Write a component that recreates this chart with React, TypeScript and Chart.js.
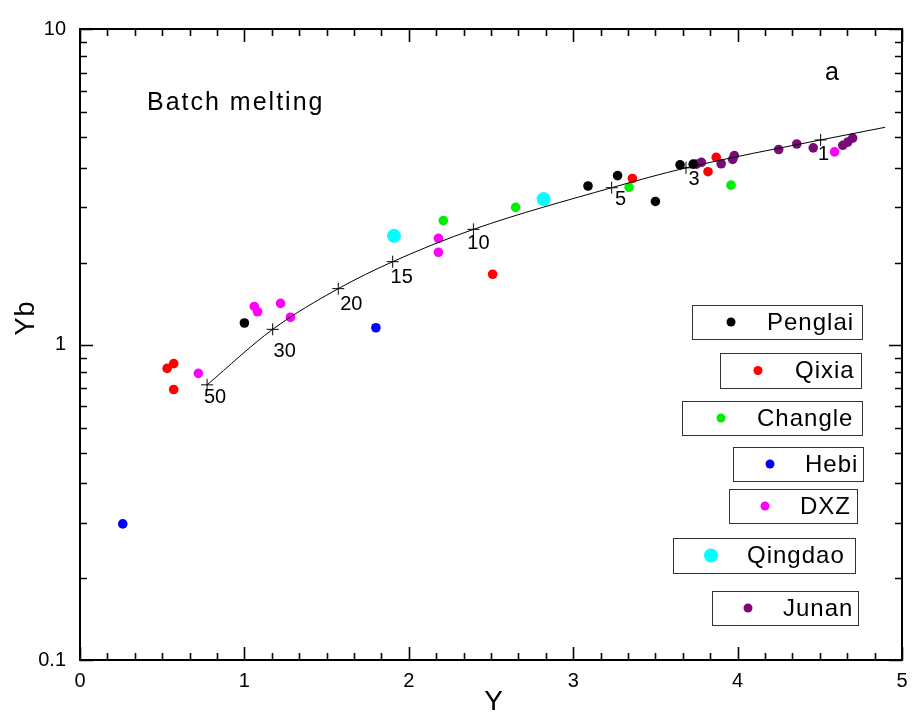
import React, { useEffect, useRef } from 'react';
import { Chart, registerables } from 'chart.js';

Chart.register(...registerables);

// ---------- data ----------
const seriesNames = ['Penglai', 'Qixia', 'Changle', 'Hebi', 'DXZ', 'Qingdao', 'Junan'];
const seriesColors = ['#000000', '#ff0000', '#00ee00', '#0000ff', '#ff00ff', '#00ffff', '#7a0a7a'];

const penglaiY = [1.0, 3.09, 3.27, 3.5, 3.65, 3.73];
const penglaiYb = [1.17, 3.18, 3.43, 2.84, 3.71, 3.73];

const qixiaY = [0.53, 0.57, 0.57, 2.51, 3.36, 3.87, 3.82];
const qixiaYb = [0.84, 0.87, 0.72, 1.67, 3.36, 3.92, 3.53];

const changleY = [2.21, 2.65, 3.34, 3.96];
const changleYb = [2.47, 2.72, 3.15, 3.2];

const hebiY = [0.26, 1.8];
const hebiYb = [0.27, 1.13];

const dxzY = [0.72, 1.06, 1.08, 1.22, 1.28, 2.18, 2.18, 4.59];
const dxzYb = [0.81, 1.32, 1.27, 1.35, 1.22, 2.17, 1.96, 4.08];

const qingdaoY = [1.91, 2.82];
const qingdaoYb = [2.21, 2.89];

const junanY = [3.75, 3.78, 3.9, 3.97, 3.98, 4.25, 4.36, 4.46, 4.64, 4.67, 4.7];
const junanYb = [3.73, 3.78, 3.74, 3.86, 3.97, 4.15, 4.32, 4.2, 4.28, 4.38, 4.51];

// batch melting model curve
const curveY = [0.773, 1.172, 1.571, 1.902, 2.393, 3.234, 3.686, 4.505, 4.897];
const curveYb = [0.745, 1.117, 1.503, 1.83, 2.317, 3.14, 3.63, 4.45, 4.88];
// melting degree labels (F %) for the first 8 curve points
const fLabels = ['50', '30', '20', '15', '10', '5', '3', '1'];

const xTickLabels = ['0', '1', '2', '3', '4', '5'];
const yTickLabels = ['0.1', '1', '10'];

// ---------- layout / styling (not data) ----------
const FONT = '"Liberation Sans", Arial, sans-serif';
const fLabelOffsets = [
  [8, 13], [12, 22], [13, 16], [9, 16], [5, 14], [9, 12], [8, 12], [3, 15],
];
const legendBoxes = [
  { x: 692, y: 305, w: 170, h: 34, mx: 731, tx: 767 },
  { x: 720, y: 353, w: 141, h: 35, mx: 758, tx: 795 },
  { x: 682, y: 401, w: 180, h: 34, mx: 721, tx: 757 },
  { x: 733, y: 447, w: 130, h: 34, mx: 770, tx: 805 },
  { x: 729, y: 489, w: 128, h: 34, mx: 765, tx: 800 },
  { x: 673, y: 538, w: 182, h: 35, mx: 711, tx: 747 },
  { x: 712, y: 591, w: 146, h: 34, mx: 748, tx: 783 },
];

const seriesY = [penglaiY, qixiaY, changleY, hebiY, dxzY, qingdaoY, junanY];
const seriesYb = [penglaiYb, qixiaYb, changleYb, hebiYb, dxzYb, qingdaoYb, junanYb];

const framePlugin = {
  id: 'frameTicks',
  beforeDraw(chart: any) {
    const ctx = chart.ctx;
    ctx.save();
    ctx.fillStyle = '#ffffff';
    ctx.fillRect(0, 0, chart.width, chart.height);
    ctx.restore();
  },
  afterDatasetsDraw(chart: any) {
    const { ctx, chartArea, scales } = chart;
    const { left, right, top, bottom } = chartArea;
    const xs = scales.x;
    const ys = scales.y;
    ctx.save();
    ctx.strokeStyle = '#000';
    ctx.lineWidth = 1.6;
    // x ticks (minor every 1/6)
    for (let i = 0; i <= 30; i++) {
      const px = Math.round(xs.getPixelForValue(i / 6)) + 0.5;
      const len = i % 6 === 0 ? 13 : 7;
      ctx.beginPath();
      ctx.moveTo(px, bottom);
      ctx.lineTo(px, bottom - len);
      ctx.moveTo(px, top);
      ctx.lineTo(px, top + len);
      ctx.stroke();
    }
    // y ticks (log, minor at k/11 of the decade top)
    const decades = [1, 10];
    for (const d of decades) {
      for (let k = 2; k <= 10; k++) {
        const v = (d * k) / 11;
        const py = Math.round(ys.getPixelForValue(v)) + 0.5;
        ctx.beginPath();
        ctx.moveTo(left, py);
        ctx.lineTo(left + 7, py);
        ctx.moveTo(right, py);
        ctx.lineTo(right - 7, py);
        ctx.stroke();
      }
    }
    for (const v of [0.1, 1, 10]) {
      const py = Math.round(ys.getPixelForValue(v)) + 0.5;
      ctx.beginPath();
      ctx.moveTo(left, py);
      ctx.lineTo(left + 13, py);
      ctx.moveTo(right, py);
      ctx.lineTo(right - 13, py);
      ctx.stroke();
    }
    // frame
    ctx.lineWidth = 2;
    ctx.strokeRect(left, top, right - left, bottom - top);

    // F labels next to the crosses
    const meta = chart.getDatasetMeta(1);
    ctx.fillStyle = '#000';
    ctx.font = `20px ${FONT}`;
    ctx.textAlign = 'center';
    ctx.textBaseline = 'middle';
    meta.data.forEach((pt: any, i: number) => {
      const off = fLabelOffsets[i] || [8, 14];
      ctx.fillText(fLabels[i], pt.x + off[0], pt.y + off[1]);
    });

    // texts
    (ctx as any).letterSpacing = '2px';
    ctx.textAlign = 'left';
    ctx.textBaseline = 'alphabetic';
    ctx.font = `25px ${FONT}`;
    ctx.fillText('Batch melting', 147, 110);
    ctx.fillText('a', 825, 80);

    // axis titles
    (ctx as any).letterSpacing = '1px';
    ctx.font = `28px ${FONT}`;
    ctx.textAlign = 'center';
    ctx.fillText('Y', 494, 710);
    ctx.save();
    ctx.translate(34, 318);
    ctx.rotate(-Math.PI / 2);
    ctx.font = `27px ${FONT}`;
    ctx.fillText('Yb', 0, 0);
    ctx.restore();

    // legend
    ctx.font = `24px ${FONT}`;
    ctx.textAlign = 'left';
    ctx.textBaseline = 'middle';
    legendBoxes.forEach((b, i) => {
      ctx.lineWidth = 1;
      ctx.strokeStyle = '#333';
      ctx.strokeRect(b.x + 0.5, b.y + 0.5, b.w, b.h);
      const cy = b.y + b.h / 2;
      ctx.fillStyle = seriesColors[i];
      ctx.beginPath();
      ctx.arc(b.mx, cy, seriesNames[i] === 'Qingdao' ? 7 : 4.5, 0, Math.PI * 2);
      ctx.fill();
      ctx.fillStyle = '#000';
      ctx.fillText(seriesNames[i], b.tx, cy + 1);
    });
    (ctx as any).letterSpacing = '0px';
    ctx.restore();
  },
};

export default function App() {
  const ref = useRef<HTMLCanvasElement | null>(null);

  useEffect(() => {
    if (!ref.current) return;
    const scatterSets = seriesNames.map((name, i) => ({
      type: 'scatter' as const,
      label: name,
      data: seriesY[i].map((v, j) => ({ x: v, y: seriesYb[i][j] })),
      backgroundColor: seriesColors[i],
      borderColor: seriesColors[i],
      borderWidth: 0,
      pointRadius: name === 'Qingdao' ? 7 : 4.8,
      pointHoverRadius: name === 'Qingdao' ? 7 : 4.8,
    }));
    const chart = new Chart(ref.current, {
      type: 'scatter',
      data: {
        datasets: [
          {
            type: 'line' as const,
            label: 'batch melting',
            data: curveY.map((v, j) => ({ x: v, y: curveYb[j] })),
            borderColor: '#000',
            borderWidth: 1,
            pointRadius: 0,
            showLine: true,
            fill: false,
            cubicInterpolationMode: 'monotone',
          } as any,
          {
            type: 'scatter' as const,
            label: 'F',
            data: fLabels.map((_, j) => ({ x: curveY[j], y: curveYb[j] })),
            pointStyle: 'cross',
            pointRadius: 6,
            borderColor: '#000',
            backgroundColor: '#000',
            borderWidth: 1,
          },
          ...scatterSets,
        ],
      },
      options: {
        responsive: false,
        animation: false,
        layout: { padding: { top: 29, right: 10, left: 0, bottom: 0 } },
        plugins: {
          legend: { display: false },
          tooltip: { enabled: false },
        },
        scales: {
          x: {
            type: 'linear',
            min: 0,
            max: 5,
            grid: { display: false, drawTicks: false },
            border: { display: false },
            ticks: {
              stepSize: 1,
              padding: 9,
              color: '#000',
              font: { family: FONT, size: 20 },
              callback: (v: any) => {
                const idx = Math.round(Number(v));
                return Math.abs(Number(v) - idx) < 1e-6 ? xTickLabels[idx] : '';
              },
            },
            afterFit: (s: any) => {
              s.height = 53;
              s.paddingLeft = 0;
              s.paddingRight = 0;
            },
          },
          y: {
            type: 'logarithmic',
            min: 0.1,
            max: 10,
            grid: { display: false, drawTicks: false },
            border: { display: false },
            ticks: {
              padding: 14,
              color: '#000',
              font: { family: FONT, size: 20 },
              autoSkip: false,
              callback: (v: any) => {
                const l = Math.log10(Number(v));
                const r = Math.round(l);
                if (Math.abs(l - r) < 1e-6 && r >= -1 && r <= 1) return yTickLabels[r + 1];
                return '';
              },
            },
            afterFit: (s: any) => {
              s.width = 80;
              s.paddingTop = 0;
              s.paddingBottom = 0;
            },
          },
        },
      },
      plugins: [framePlugin],
    });
    return () => chart.destroy();
  }, []);

  return (
    <div style={{ position: 'absolute', left: 0, top: 0, width: 912, height: 713 }}>
      <canvas ref={ref} width={912} height={713} />
    </div>
  );
}
